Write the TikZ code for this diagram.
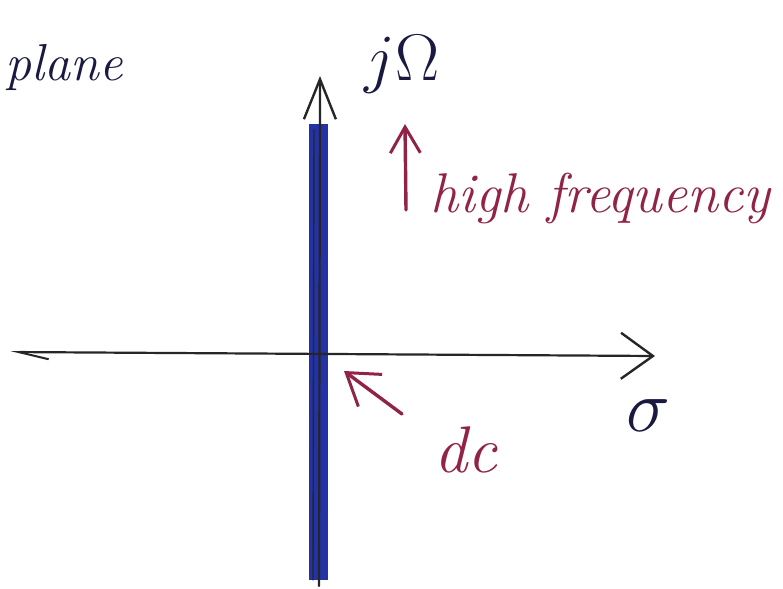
\documentclass[tikz,border=0pt]{standalone}
\usepackage{fix-cm}
\usepackage{fontspec}
\usetikzlibrary{arrows.meta}
\definecolor{inkblue}{RGB}{35,50,165}
\definecolor{inkred}{RGB}{145,35,70}
\definecolor{inknavy}{RGB}{25,25,65}
\begin{document}
\begin{tikzpicture}[x=1pt, y=-1pt,
		asse/.style={line width=2.2pt, line cap=round, black!85},
		fascia/.style={line width=19pt, inkblue},
		tratto/.style={line width=3.4pt, line cap=round, inkred},
		scritta/.style={inner sep=0pt, font=\fontsize{52}{60}\selectfont\itshape}]
	
	\useasboundingbox (0,0) rectangle (783,588);
	
	%% --- assi del piano ---
	\coordinate (sigL) at (10,352);
	\coordinate (sigR) at (655,356);
	\coordinate (omB)  at (319,586);
	\coordinate (omT)  at (320,76);
	\coordinate (fasB) at (318,580);
	\coordinate (fasT) at (318,124);
	
	\draw[fascia] (fasB) -- (fasT);
	\draw[asse, line width=1.4pt] (313,580) -- (314,130);
	\draw[asse, -{Straight Barb[length=40pt, width=32pt, line width=2.4pt]}] (omB) -- (omT);
	\draw[asse, {Straight Barb[left, length=30pt, width=14pt, line width=2pt]}-{Straight Barb[length=32pt, width=46pt, line width=2.4pt]}] (sigL) -- (sigR);
	
	%% --- scritte ---
	\node[scritta, inknavy] (piano) at (64,68) {plane};
	\node[scritta, inknavy, font=\fontsize{66}{72}\selectfont] (jomega) at (402,64) {$j\Omega$};
	\node[scritta, inkred, font=\fontsize{56}{64}\selectfont\itshape] (alta) at (600,198) {high frequency};
	\node[scritta, inkred, font=\fontsize{66}{72}\selectfont\itshape] (dc) at (466,450) {dc};
	\node[scritta, inknavy, font=\fontsize{74}{80}\selectfont] (sigma) at (648,416) {$\sigma$};
	
	%% --- frecce rosse ---
	\coordinate (hfA) at (406,210);
	\coordinate (hfB) at (405,124);
	\coordinate (dcA) at (402,414);
	\coordinate (dcB) at (344,371);
	\draw[tratto, -{Straight Barb[length=26pt, width=30pt, line width=3pt]}] (hfA) -- (hfB);
	\draw[tratto, -{Straight Barb[length=30pt, width=40pt, line width=3pt]}] (dcA) -- (dcB);
	
\end{tikzpicture}
\end{document}
